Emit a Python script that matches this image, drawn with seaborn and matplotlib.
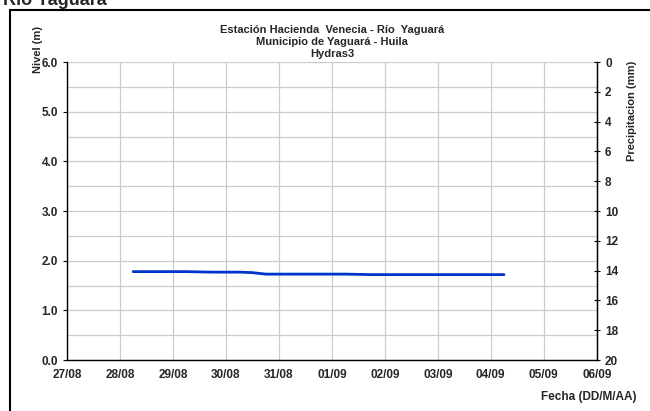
import pandas as pd
import numpy as np
import seaborn as sns
import matplotlib.pyplot as plt
from matplotlib.patches import Rectangle
import matplotlib.dates as mdates

# lecturas de nivel (m) tomadas del grafico
fechas = ['2023-08-28 06:00', '2023-08-28 18:00', '2023-08-29 06:00', '2023-08-29 18:00',
          '2023-08-30 06:00', '2023-08-30 12:00', '2023-08-30 18:00', '2023-08-31 06:00',
          '2023-08-31 18:00', '2023-09-01 06:00', '2023-09-01 18:00', '2023-09-02 06:00',
          '2023-09-02 18:00', '2023-09-03 06:00', '2023-09-03 18:00', '2023-09-04 06:00']
nivel = [1.78, 1.78, 1.78, 1.77, 1.77, 1.76, 1.73, 1.73,
         1.73, 1.73, 1.72, 1.72, 1.72, 1.72, 1.72, 1.72]
dias = pd.date_range('2023-08-27', '2023-09-06', freq='D')
precip_ticks = list(range(0, 21, 2))

df = pd.DataFrame({'Fecha': pd.to_datetime(fechas), 'Nivel': nivel})

sns.set_style('white')
plt.rcParams['font.family'] = ['Liberation Sans', 'DejaVu Sans']
plt.rcParams['font.weight'] = 'bold'

fig = plt.figure(figsize=(6.5, 4.11), dpi=100)
ax = fig.add_axes([0.103, 0.124, 0.815, 0.725])

# marco exterior
fig.patches.append(Rectangle((0.016, -0.05), 1.2, 1.026, transform=fig.transFigure,
                             fill=False, edgecolor='black', linewidth=1.5))

sns.lineplot(data=df, x='Fecha', y='Nivel', ax=ax, color='#0033CC', linewidth=2)

ax.set_xlim(dias[0], dias[-1])
ax.set_xticks(dias)
ax.xaxis.set_major_formatter(mdates.DateFormatter('%d/%m'))
ax.set_ylim(0, 6)
ax.set_yticks(np.arange(0, 6.1, 1.0))
ax.set_yticks(np.arange(0, 6.1, 0.5), minor=True)
ax.yaxis.set_major_formatter(plt.FormatStrFormatter('%.1f'))
ax.grid(True, which='both', color='#cccccc', linewidth=0.9)
ax.set_xlabel('')
ax.set_ylabel('')
ax.spines['top'].set_visible(False)
for s in ['left', 'bottom']:
    ax.spines[s].set_color('black')
    ax.spines[s].set_linewidth(1.0)
ax.tick_params(axis='both', labelsize=8.5, length=3, color='black', direction='out')
ax.tick_params(axis='y', which='minor', length=0)
for lbl in ax.get_xticklabels() + ax.get_yticklabels():
    lbl.set_fontweight('bold')

ax2 = ax.twinx()
ax2.set_ylim(20, 0)
ax2.set_yticks(precip_ticks)
ax2.tick_params(axis='y', labelsize=8.5, length=5, direction='inout', color='black')
for lbl in ax2.get_yticklabels():
    lbl.set_fontweight('bold')
ax2.spines['right'].set_color('black')
ax2.spines['right'].set_linewidth(1.0)
for s in ['top', 'left', 'bottom']:
    ax2.spines[s].set_visible(False)

ax.set_title('Estación Hacienda  Venecia - Río  Yaguará\nMunicipio de Yaguará - Huila\nHydras3',
             fontsize=8, fontweight='bold', linespacing=1.2, pad=4)

fig.text(0.058, 0.88, 'Nivel (m)', rotation=90, fontsize=8, fontweight='bold',
         ha='center', va='center')
fig.text(0.972, 0.73, 'Precipitacion (mm)', rotation=90, fontsize=8, fontweight='bold',
         ha='center', va='center')
fig.text(0.832, 0.034, 'Fecha (DD/M/AA)', fontsize=8.5, fontweight='bold',
         ha='left', va='center')
fig.text(0.005, 0.998, 'Río Yaguará', fontsize=13, fontweight='bold',
         ha='left', va='center')

fig.savefig('out.png', dpi=100)
